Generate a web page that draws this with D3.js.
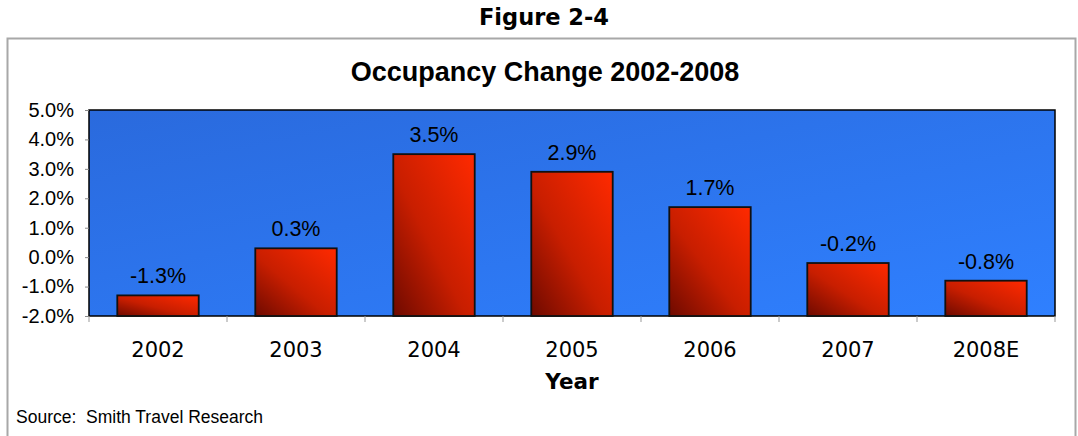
<!DOCTYPE html>
<html>
<head>
<meta charset="utf-8">
<script src="https://cdn.jsdelivr.net/npm/d3@7"></script>
<style>
  body { margin: 0; background: #fff; }
  svg { display: block; }
</style>
</head>
<body>
<div id="chart"></div>
<script>
// data
var aYears = ["2002", "2003", "2004", "2005", "2006", "2007", "2008E"];
var aChange = [-1.3, 0.3, 3.5, 2.9, 1.7, -0.2, -0.8];
var aTicks = [-2, -1, 0, 1, 2, 3, 4, 5];

var W = 1078, H = 436;
var plot = {left: 89, right: 1055, top: 110, bottom: 316};

var svg = d3.select("#chart").append("svg")
    .attr("width", W)
    .attr("height", H);

var defs = svg.append("defs");
var bg = defs.append("linearGradient").attr("id", "bgGrad")
    .attr("x1", "0%").attr("y1", "0%").attr("x2", "100%").attr("y2", "100%");
bg.append("stop").attr("offset", "0%").attr("stop-color", "#2a6add");
bg.append("stop").attr("offset", "100%").attr("stop-color", "#2f80ff");

var barGrad = defs.append("linearGradient").attr("id", "barGrad")
    .attr("x1", "0%").attr("y1", "100%").attr("x2", "100%").attr("y2", "0%");
barGrad.append("stop").attr("offset", "0%").attr("stop-color", "#6e0a00");
barGrad.append("stop").attr("offset", "45%").attr("stop-color", "#c81e00");
barGrad.append("stop").attr("offset", "100%").attr("stop-color", "#ff2a00");

// outer frame
svg.append("path")
    .attr("d", "M7.5," + H + " V38.5 H1075.5 V" + H)
    .attr("fill", "none")
    .attr("stroke", "#a8a8a8")
    .attr("stroke-width", 2);

svg.append("text")
    .attr("x", 544).attr("y", 25)
    .attr("text-anchor", "middle")
    .attr("font-family", "DejaVu Sans")
    .attr("font-weight", "bold")
    .attr("font-size", "22.5px")
    .text("Figure 2-4");

svg.append("text")
    .attr("x", 545).attr("y", 81)
    .attr("text-anchor", "middle")
    .attr("font-family", "Liberation Sans, Arial")
    .attr("font-weight", "bold")
    .attr("font-size", "27px")
    .text("Occupancy Change 2002-2008");

var x = d3.scaleBand()
    .domain(aYears)
    .range([plot.left, plot.right])
    .paddingInner(0.41)
    .paddingOuter(0.205);

var y = d3.scaleLinear()
    .domain([-2, 5])
    .range([plot.bottom, plot.top]);

svg.append("rect")
    .attr("x", plot.left).attr("y", plot.top)
    .attr("width", plot.right - plot.left)
    .attr("height", plot.bottom - plot.top)
    .attr("fill", "url(#bgGrad)")
    .attr("stroke", "#000")
    .attr("stroke-width", 1.5);

// bars rise from the axis minimum, as in the original
svg.selectAll("rect.bar")
    .data(aChange)
    .enter()
    .append("rect")
    .attr("class", "bar")
    .attr("x", function(d, i) { return x(aYears[i]); })
    .attr("y", function(d) { return y(d); })
    .attr("width", x.bandwidth())
    .attr("height", function(d) { return y(-2) - y(d); })
    .attr("fill", "url(#barGrad)")
    .attr("stroke", "#111")
    .attr("stroke-width", 1.8);

svg.selectAll("text.val")
    .data(aChange)
    .enter()
    .append("text")
    .attr("class", "val")
    .attr("x", function(d, i) { return x(aYears[i]) + x.bandwidth() / 2; })
    .attr("y", function(d) { return y(d) - 12; })
    .attr("text-anchor", "middle")
    .attr("font-family", "Liberation Sans, Arial")
    .attr("font-size", "21.5px")
    .attr("fill", "#000")
    .text(function(d) { return d.toFixed(1) + "%"; });

// y axis
var yAxis = d3.axisLeft(y)
    .tickValues(aTicks)
    .tickSize(4)
    .tickPadding(11)
    .tickFormat(function(d) { return d.toFixed(1) + "%"; });
var gy = svg.append("g")
    .attr("transform", "translate(" + plot.left + ",0)")
    .call(yAxis);
gy.select(".domain").remove();
gy.selectAll("line").attr("stroke", "#888");
gy.selectAll("text")
    .attr("font-family", "Liberation Sans, Arial")
    .attr("font-size", "20px")
    .attr("fill", "#000");

// x axis ticks between categories
var tickX = d3.range(aYears.length + 1).map(function(i) {
    return plot.left + i * x.step();
});
svg.selectAll("line.xt")
    .data(tickX)
    .enter()
    .append("line")
    .attr("class", "xt")
    .attr("x1", function(d) { return d; })
    .attr("x2", function(d) { return d; })
    .attr("y1", plot.bottom)
    .attr("y2", plot.bottom + 6)
    .attr("stroke", "#999");

svg.selectAll("text.cat")
    .data(aYears)
    .enter()
    .append("text")
    .attr("class", "cat")
    .attr("x", function(d) { return x(d) + x.bandwidth() / 2; })
    .attr("y", 357)
    .attr("text-anchor", "middle")
    .attr("font-family", "DejaVu Sans")
    .attr("font-size", "21px")
    .text(function(d) { return d; });

svg.append("text")
    .attr("x", 572).attr("y", 389)
    .attr("text-anchor", "middle")
    .attr("font-family", "DejaVu Sans")
    .attr("font-weight", "bold")
    .attr("font-size", "21.5px")
    .text("Year");

svg.append("text")
    .attr("x", 16).attr("y", 423)
    .attr("font-family", "Liberation Sans, Arial")
    .attr("font-size", "17.5px")
    .text("Source:\u00a0 Smith Travel Research");
</script>
</body>
</html>
